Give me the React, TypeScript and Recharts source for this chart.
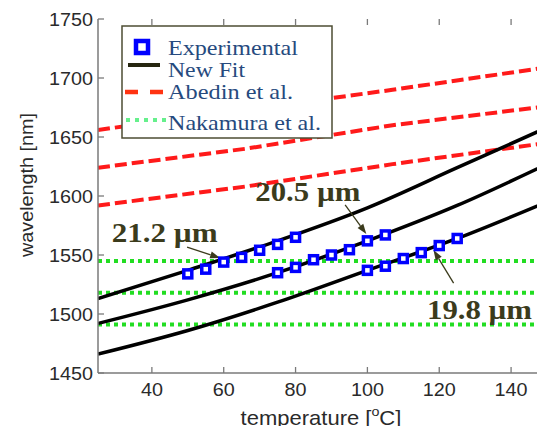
import React from 'react';
import {
  ComposedChart,
  Line,
  Scatter,
  XAxis,
  YAxis,
  ReferenceDot,
  ReferenceLine,
  Customized,
} from 'recharts';

// fit curves (temperature in °C, wavelength in nm)
const fitTemps = [25, 50, 75, 100, 125, 150];
const fitA = [1513, 1537, 1562, 1590, 1624, 1658];
const fitB = [1492, 1512, 1535, 1562, 1592, 1627];
const fitC = [1466, 1486, 1510, 1537, 1564, 1595];

// Abedin et al. curves
const abedinTemps = [25, 66, 107, 150];
const abedinA = [1656, 1673, 1690, 1709];
const abedinB = [1624, 1640, 1660, 1676];
const abedinC = [1592, 1608, 1627, 1645];

// Nakamura et al. (flat)
const nakamuraTemps = [25, 150];
const nakamuraA = [1545, 1545];
const nakamuraB = [1518, 1518];
const nakamuraC = [1491, 1491];

// experimental points
const expTemps = [
  50, 55, 60, 65, 70, 75, 80,
  75, 80, 85, 90, 95, 100, 105,
  100, 105, 110, 115, 120, 125,
];
const expWaves = [
  1534, 1538, 1544, 1548, 1554, 1559, 1565,
  1535, 1539.5, 1546, 1550, 1554.5, 1562, 1567,
  1537, 1540.5, 1547, 1552, 1558, 1564,
];

const xTicks = [40, 60, 80, 100, 120, 140];
const yTicks = [1450, 1500, 1550, 1600, 1650, 1700, 1750];

// period labels with arrows
const labels = [
  { text: '21.2 \u00b5m', t: 28.8, w: 1561, len: 106 },
  { text: '20.5 \u00b5m', t: 68.8, w: 1596, len: 105 },
  { text: '19.8 \u00b5m', t: 116.6, w: 1496, len: 105 },
];
const arrows = [
  { from: [49.8, 1556.7], to: [59.0, 1547.4] },
  { from: [93.8, 1592.4], to: [99.7, 1567.8] },
  { from: [124.0, 1526.2], to: [118.4, 1554.2] },
];

const toPoints = (ts: number[], ws: number[]) => ts.map((t, i) => ({ t, w: ws[i] }));

const PLOT_LEFT = 98;
const PLOT_RIGHT = 547;
const PLOT_TOP = 19;
const PLOT_BOTTOM = 373;
const AXIS_GRAY = '#7a7a7a';
const OLIVE = '#3b3b1c';
const RED = '#ff1a1a';
const GREEN = '#22dd22';

const XTick = ({ x, payload }: any) => (
  <g>
    <line x1={x} x2={x} y1={PLOT_BOTTOM} y2={PLOT_BOTTOM - 6} stroke={AXIS_GRAY} strokeWidth={1.3} />
    <line x1={x} x2={x} y1={PLOT_TOP} y2={PLOT_TOP + 6} stroke={AXIS_GRAY} strokeWidth={1.3} />
    <text
      transform={`translate(${x},396) scale(1.1,1)`}
      textAnchor="middle"
      fontFamily="Liberation Sans, Arial, sans-serif"
      fontSize={18}
      fill="#2a2a2a"
    >
      {payload.value}
    </text>
  </g>
);

const YTick = ({ y, payload }: any) => (
  <g>
    <line x1={PLOT_LEFT} x2={PLOT_LEFT + 6} y1={y} y2={y} stroke={AXIS_GRAY} strokeWidth={1.3} />
    <line x1={PLOT_RIGHT - 6} x2={PLOT_RIGHT} y1={y} y2={y} stroke={AXIS_GRAY} strokeWidth={1.3} />
    <text
      transform={`translate(93,${y + 6.5}) scale(1.1,1)`}
      textAnchor="end"
      fontFamily="Liberation Sans, Arial, sans-serif"
      fontSize={18}
      fill="#2a2a2a"
    >
      {payload.value}
    </text>
  </g>
);

const Square = ({ cx, cy }: any) => (
  <rect x={cx - 4} y={cy - 4} width={8} height={8} fill="#fff" stroke="#0000ff" strokeWidth={3.5} />
);

const Arrow = ({ x1, y1, x2, y2 }: any) => {
  const a = Math.atan2(y2 - y1, x2 - x1);
  const L = 10;
  const W = 3.5;
  const bx = x2 - L * Math.cos(a);
  const by = y2 - L * Math.sin(a);
  const pts = `${x2},${y2} ${bx + W * Math.sin(a)},${by - W * Math.cos(a)} ${bx - W * Math.sin(a)},${by + W * Math.cos(a)}`;
  return (
    <g>
      <line x1={x1} y1={y1} x2={bx} y2={by} stroke={OLIVE} strokeWidth={1.3} />
      <polygon points={pts} fill={OLIVE} />
    </g>
  );
};

const legendText = {
  fontFamily: 'Liberation Serif, Times New Roman, serif',
  fontSize: 22,
  fill: '#264a7e',
};

// legend sits in its own svg on top of the chart so the curves pass under it
const LegendBox = () => (
  <svg width={545} height={434} style={{ position: 'absolute', left: 0, top: 0, pointerEvents: 'none' }}>
    <rect x={122} y={26} width={210} height={112} fill="#fff" stroke="#4d4d33" strokeWidth={1.5} />
    <rect x={136} y={41} width={12} height={12} fill="#fff" stroke="#0000ff" strokeWidth={4.5} />
    <text x={168} y={55} textLength={130} lengthAdjust="spacingAndGlyphs" {...legendText}>Experimental</text>
    <line x1={128} x2={160} y1={65} y2={65} stroke="#262610" strokeWidth={4} />
    <text x={168} y={77} textLength={77} lengthAdjust="spacingAndGlyphs" {...legendText}>New Fit</text>
    <line x1={125} x2={166} y1={92} y2={92} stroke="#ff3311" strokeWidth={4.5} strokeDasharray="13 12" />
    <text x={168} y={99} textLength={125} lengthAdjust="spacingAndGlyphs" {...legendText}>Abedin et al.</text>
    <line x1={126} x2={166} y1={120} y2={120} stroke="#66f08c" strokeWidth={4} strokeDasharray="4 5" />
    <text x={168} y={130} textLength={153} lengthAdjust="spacingAndGlyphs" {...legendText}>Nakamura et al.</text>
  </svg>
);

const AxisLabels = () => (
  <g fontFamily="Liberation Sans, Arial, sans-serif" fill="#2a2a2a">
    <text transform="translate(321,425) scale(1.1,1)" textAnchor="middle" fontSize={20}>
      temperature [<tspan fontSize={13} dy={-9}>o</tspan>
      <tspan dy={9}>C]</tspan>
    </text>
    <text transform="translate(33,185) rotate(-90) scale(1.1,1)" textAnchor="middle" fontSize={18}>
      wavelength [nm]
    </text>
  </g>
);

const App = () => {
  const fits = [fitA, fitB, fitC];
  const abedin = [abedinA, abedinB, abedinC];
  const nakamura = [nakamuraA, nakamuraB, nakamuraC];
  const expData = toPoints(expTemps, expWaves);

  return (
    <div style={{ margin: -8, width: 545, height: 434, overflow: 'hidden', background: '#fff', position: 'relative' }}>
      <ComposedChart width={560} height={434} margin={{ top: PLOT_TOP, right: 13, left: 8, bottom: 0 }}>
        <XAxis
          dataKey="t"
          type="number"
          domain={[25, 150]}
          ticks={xTicks}
          allowDataOverflow
          height={61}
          tickLine={false}
          axisLine={{ stroke: AXIS_GRAY, strokeWidth: 1.5 }}
          tick={<XTick />}
        />
        <XAxis xAxisId="top" orientation="top" type="number" domain={[25, 150]} height={0} tick={false} tickLine={false} axisLine={{ stroke: AXIS_GRAY, strokeWidth: 1.5 }} />
        <YAxis
          type="number"
          domain={[1450, 1750]}
          ticks={yTicks}
          allowDataOverflow
          width={90}
          tickLine={false}
          axisLine={{ stroke: AXIS_GRAY, strokeWidth: 1.5 }}
          tick={<YTick />}
        />

        {abedin.map((ws, i) => (
          <Line
            key={`ab${i}`}
            data={toPoints(abedinTemps, ws)}
            dataKey="w"
            type="linear"
            stroke={RED}
            strokeWidth={4}
            strokeDasharray="12 5"
            dot={false}
            activeDot={false}
            isAnimationActive={false}
          />
        ))}
        {nakamura.map((ws, i) => (
          <Line
            key={`nk${i}`}
            data={toPoints(nakamuraTemps, ws)}
            dataKey="w"
            type="linear"
            stroke={GREEN}
            strokeWidth={4}
            strokeDasharray="4 4"
            dot={false}
            activeDot={false}
            isAnimationActive={false}
          />
        ))}
        <Scatter data={expData} dataKey="w" shape={<Square />} isAnimationActive={false} />
        {fits.map((ws, i) => (
          <Line
            key={`fit${i}`}
            data={toPoints(fitTemps, ws)}
            dataKey="w"
            type="monotone"
            stroke="#000"
            strokeWidth={3.5}
            dot={false}
            activeDot={false}
            isAnimationActive={false}
          />
        ))}

        {arrows.map((a, i) => (
          <ReferenceLine
            key={`ar${i}`}
            segment={[{ x: a.from[0], y: a.from[1] }, { x: a.to[0], y: a.to[1] }]}
            shape={<Arrow />}
          />
        ))}
        {labels.map((l, i) => (
          <ReferenceDot
            key={`lb${i}`}
            x={l.t}
            y={l.w}
            r={0}
            shape={(p: any) => (
              <text
                x={p.cx}
                y={p.cy}
                textLength={l.len}
                lengthAdjust="spacingAndGlyphs"
                fontFamily="Liberation Serif, Times New Roman, serif"
                fontWeight="bold"
                fontSize={28}
                fill={OLIVE}
              >
                {l.text}
              </text>
            )}
          />
        ))}
        <Customized component={AxisLabels} />
      </ComposedChart>
      <LegendBox />
    </div>
  );
};

export default App;
